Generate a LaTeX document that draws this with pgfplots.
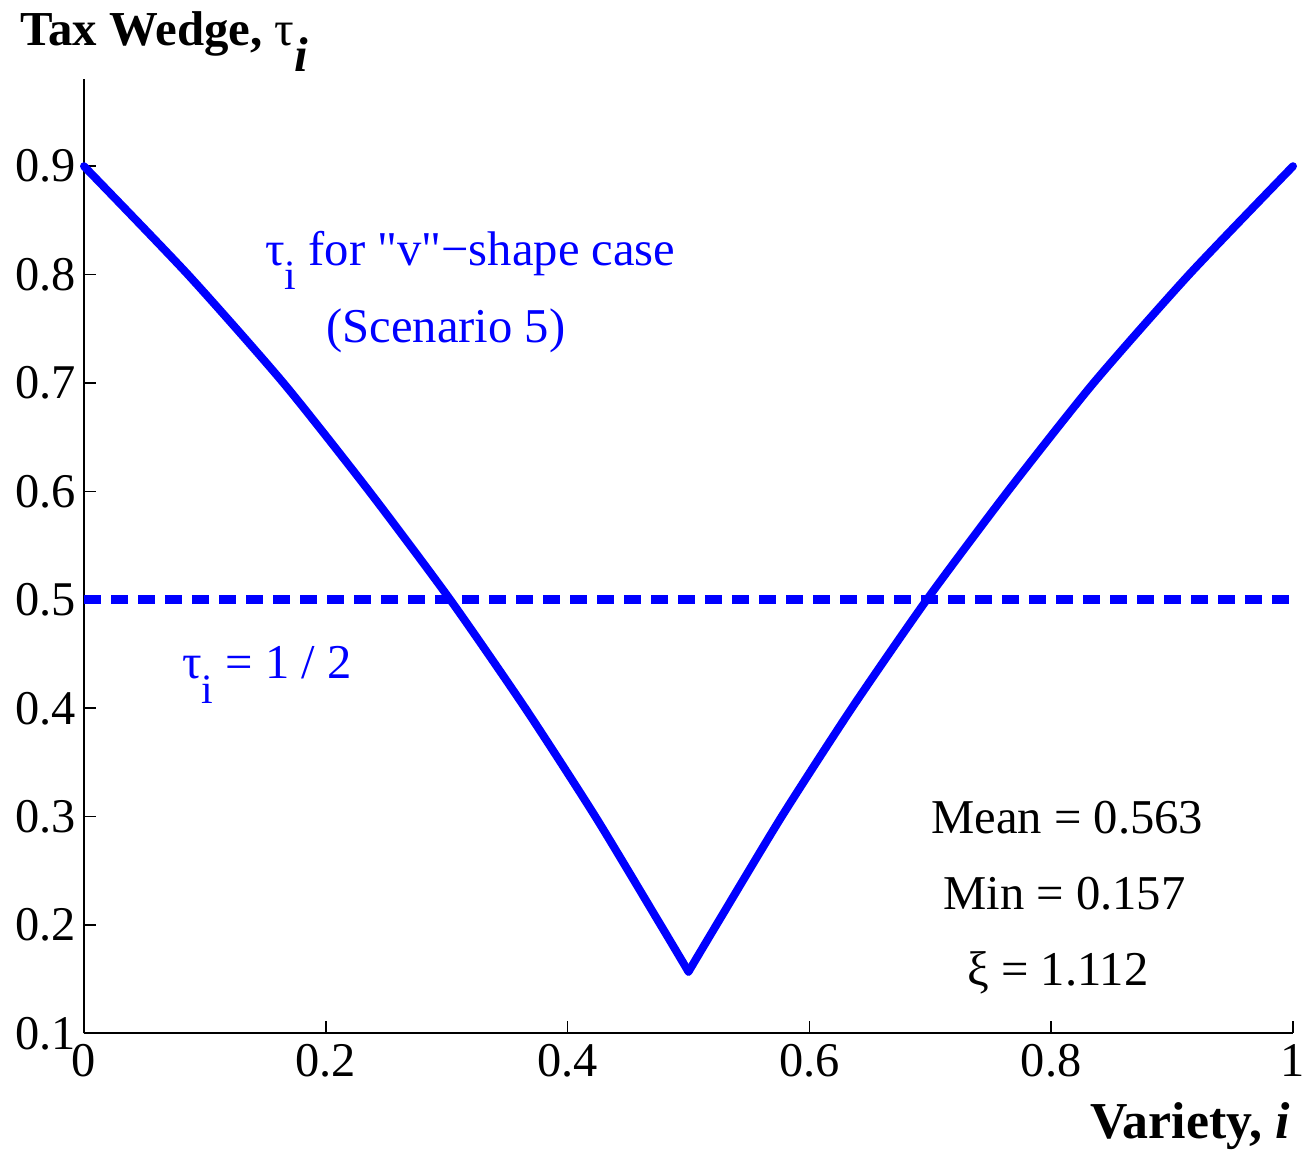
\documentclass[border=0pt]{standalone}
\usepackage{fontspec}
\setmainfont{Liberation Serif}
\newfontfamily\qfont{Liberation Serif}[Ligatures=ResetAll]
\usepackage{pgfplots}
\pgfplotsset{compat=1.18}
\definecolor{mblue}{RGB}{0,0,255}
\newcommand{\sub}[1]{\raisebox{-0.5em}{\fontsize{21}{23}\selectfont #1}}
\newcommand{\dq}{{\qfont"}}
\begin{document}
\begin{tikzpicture}
\begin{axis}[
  scale only axis,
  width=604.5bp, height=477bp,
  xmin=0, xmax=1, ymin=0.1, ymax=0.98,
  axis lines=left,
  axis line style={-, line width=1bp, black},
  xtick={0,0.2,0.4,0.6,0.8,1},
  ytick={0.1,0.2,0.3,0.4,0.5,0.6,0.7,0.8,0.9},
  xticklabels={0,0.2,0.4,0.6,0.8,1},
  yticklabels={0.1,0.2,0.3,0.4,0.5,0.6,0.7,0.8,0.9},
  tick align=inside,
  major tick length=6bp,
  tick style={line width=0.8bp, black},
  tick label style={font=\fontsize{24.3}{27}\selectfont},
  xticklabel style={yshift=-2bp},
  yticklabel style={xshift=-0.5bp},
  clip=false,
]
\addplot[mblue, line width=4bp, line join=round, line cap=round, smooth, tension=0.4] coordinates {
(0,0.9) (0.086,0.8) (0.165,0.7) (0.236,0.6) (0.303,0.5) (0.365,0.4) (0.423,0.3)
(0.477,0.2) (0.5,0.157)
};
\addplot[mblue, line width=4bp, line join=round, line cap=round, smooth, tension=0.4] coordinates {
(0.5,0.157) (0.523,0.2) (0.577,0.3) (0.635,0.4) (0.697,0.5) (0.764,0.6) (0.835,0.7)
(0.914,0.8) (1,0.9)
};
\addplot[mblue, line width=4.5bp, dash pattern=on 8.5bp off 5bp] coordinates {(0,0.5) (1,0.5)};

\node[anchor=base west, text=mblue, font=\fontsize{24.4}{27}\selectfont, inner sep=0pt] at (axis cs:0.1497,0.8086) {τ\sub{i} for \dq v\dq −shape case};
\node[anchor=base west, text=mblue, font=\fontsize{24.4}{27}\selectfont, inner sep=0pt] at (axis cs:0.2002,0.7374) {(Scenario 5)};
\node[anchor=base west, text=mblue, font=\fontsize{24.4}{27}\selectfont, inner sep=0pt] at (axis cs:0.081,0.427) {τ\sub{i} = 1 / 2};
\node[anchor=base west, font=\fontsize{24.4}{27}\selectfont, inner sep=0pt] at (axis cs:0.7006,0.2848) {Mean = 0.563};
\node[anchor=base west, font=\fontsize{24.4}{27}\selectfont, inner sep=0pt] at (axis cs:0.7105,0.2146) {Min = 0.157};
\node[anchor=base west, font=\fontsize{24.4}{27}\selectfont, inner sep=0pt] at (axis cs:0.7303,0.1443) {ξ = 1.112};
\node[anchor=base west, font=\bfseries\fontsize{24.5}{28}\selectfont, inner sep=0pt] at (axis cs:-0.0529,1.0118) {Tax Wedge, {\mdseries τ}\raisebox{-0.55em}{\textit{i}}};
\node[anchor=base east, font=\bfseries\fontsize{26}{30}\selectfont, inner sep=0pt] at (axis cs:0.9975,0.003) {Variety, \textit{i}};

\coordinate (bbA) at (axis cs:-0.06948,-0.00716);
\coordinate (bbB) at (axis cs:1.0091,1.05335);
\end{axis}
\pgfresetboundingbox
\path[use as bounding box] (bbA) rectangle (bbB);
\end{tikzpicture}
\end{document}
